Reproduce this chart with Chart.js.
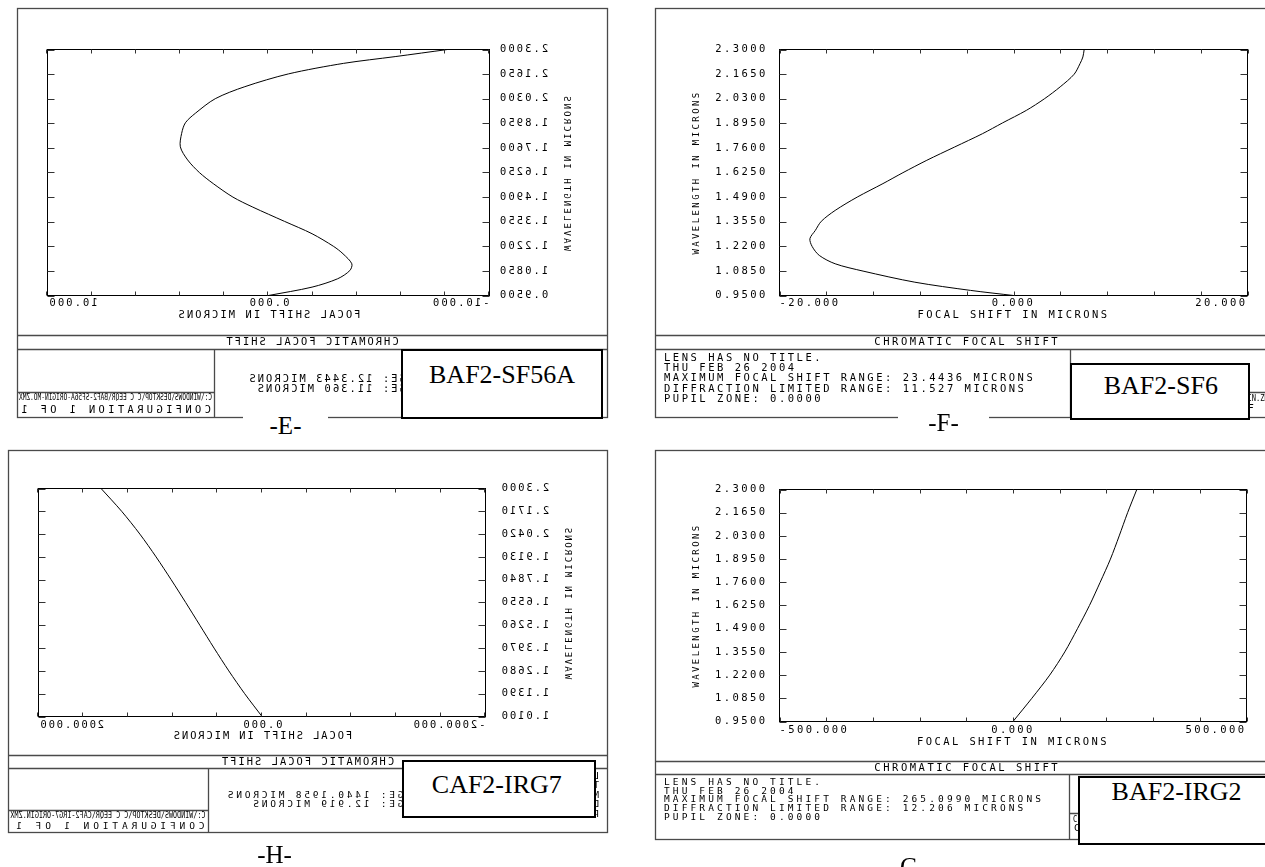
<!DOCTYPE html>
<html>
<head>
<meta charset="utf-8">
<title>Chromatic focal shift</title>
<script src="https://cdn.jsdelivr.net/npm/chart.js@4.4.1/dist/chart.umd.min.js"></script>
<style>
  html, body { margin: 0; padding: 0; background: #fff; }
  #sheet { position: relative; width: 1265px; height: 867px; overflow: hidden; background: #fff; }
  canvas.panel { position: absolute; }
  canvas.mirror { transform: scaleX(-1); }
  .tag { position: absolute; box-sizing: border-box; border: 2px solid #000; background: #fff; }
  .gap { position: absolute; background: #fff; }
  .cap { position: absolute; font-family: "Liberation Serif", "Times New Roman", serif; font-size: 26px;
         line-height: 26px; white-space: nowrap; color: #000; transform: translateX(-50%); }
  .cap.small { font-size: 25px; line-height: 25px; }
</style>
</head>
<body>
<div id="sheet">
  <canvas id="plotE" class="panel mirror" width="605" height="440" style="left:10px;top:0px;width:605px;height:440px"></canvas>
  <canvas id="plotF" class="panel" width="620" height="440" style="left:645px;top:0px;width:620px;height:440px"></canvas>
  <canvas id="plotH" class="panel mirror" width="616" height="427" style="left:0px;top:440px;width:616px;height:427px"></canvas>
  <canvas id="plotG" class="panel" width="620" height="427" style="left:645px;top:440px;width:620px;height:427px"></canvas>

  <div class="tag" style="left:401px;top:349px;width:202px;height:70px"></div>
  <div class="cap" style="left:502px;top:361.5px">BAF2-SF56A</div>
  <div class="gap" style="left:243px;top:411px;width:85px;height:28px"></div>
  <div class="cap small" style="left:285.5px;top:413.3px">-E-</div>

  <div class="tag" style="left:1070px;top:362.5px;width:179.5px;height:57px"></div>
  <div class="cap" style="left:1160.8px;top:372.8px">BAF2-SF6</div>
  <div class="gap" style="left:898px;top:411px;width:91px;height:28px"></div>
  <div class="cap small" style="left:943.5px;top:410.3px">-F-</div>

  <div class="tag" style="left:402px;top:760px;width:194px;height:58px"></div>
  <div class="cap" style="left:496.8px;top:771.8px">CAF2-IRG7</div>
  <div class="cap small" style="left:274.5px;top:842.3px">-H-</div>

  <div class="tag" style="left:1077.5px;top:776px;width:210px;height:69px"></div>
  <div class="cap" style="left:1176.6px;top:779.3px">BAF2-IRG2</div>
  <div class="cap small" style="left:909px;top:853.9px">-G-</div>
</div>

<script>
// ---- BAF2-SF56A ----
const E_WAVE  = [0.950, 0.996, 1.042, 1.087, 1.124, 1.179, 1.219, 1.289, 1.357, 1.435, 1.490, 1.564,
                 1.625, 1.694, 1.766, 1.840, 1.898, 1.950, 2.030, 2.096, 2.166, 2.224, 2.261, 2.300];
const E_SHIFT = [0.00, -1.97, -3.13, -3.68, -3.77, -3.37, -2.95, -1.97, -0.72, 0.71, 1.61, 2.50,
                 3.13, 3.66, 3.99, 3.93, 3.76, 3.31, 2.41, 1.07, -0.90, -3.40, -5.73, -8.10];
const E_SHIFT_TICKS  = [-10, -8, -6, -4, -2, 0, 2, 4, 6, 8, 10];
const E_SHIFT_LABELS = ['-10.000', '', '', '', '', '0.000', '', '', '', '', '10.000'];

// ---- BAF2-SF6 ----
const F_WAVE  = [0.950, 0.978, 1.023, 1.084, 1.124, 1.170, 1.219, 1.262, 1.307, 1.357, 1.417, 1.490,
                 1.564, 1.624, 1.692, 1.765, 1.838, 1.897, 1.966, 2.029, 2.095, 2.164, 2.223, 2.259, 2.300];
const F_SHIFT = [0.00, -3.67, -8.43, -12.86, -15.24, -16.60, -17.21, -17.40, -16.94, -16.43, -15.24, -13.36,
                 -11.16, -9.45, -7.41, -5.03, -2.65, -0.94, 1.10, 2.63, 3.99, 5.18, 5.69, 5.93, 6.04];
const F_SHIFT_TICKS  = [-20, -16, -12, -8, -4, 0, 4, 8, 12, 16, 20];
const F_SHIFT_LABELS = ['-20.000', '', '', '', '', '0.000', '', '', '', '', '20.000'];

// ---- BAF2-IRG2 ----
const G_WAVE  = [0.950, 1.085, 1.220, 1.355, 1.490, 1.625, 1.760, 1.895, 2.030, 2.165, 2.300];
const G_SHIFT = [0.0, 40.3, 78.6, 110.9, 138.0, 163.7, 186.6, 208.6, 227.4, 245.4, 265.1];
const G_SHIFT_TICKS  = [-500, -400, -300, -200, -100, 0, 100, 200, 300, 400, 500];
const G_SHIFT_LABELS = ['-500.000', '', '', '', '', '0.000', '', '', '', '', '500.000'];

// ---- CAF2-IRG7 ----
const H_WAVE  = [1.010, 1.139, 1.268, 1.397, 1.526, 1.655, 1.784, 1.913, 2.042, 2.171, 2.300];
const H_SHIFT = [0, 155, 297, 429, 556, 683, 813, 948, 1093, 1256, 1440.2];
const H_SHIFT_TICKS  = [-2000, -1600, -1200, -800, -400, 0, 400, 800, 1200, 1600, 2000];
const H_SHIFT_LABELS = ['-2000.000', '', '', '', '', '0.000', '', '', '', '', '2000.000'];

// wavelength axes
const WAVE_TICKS   = [0.95, 1.085, 1.22, 1.355, 1.49, 1.625, 1.76, 1.895, 2.03, 2.165, 2.3];
const WAVE_LABELS  = ['0.9500', '1.0850', '1.2200', '1.3550', '1.4900', '1.6250', '1.7600', '1.8950', '2.0300', '2.1650', '2.3000'];
const H_WAVE_TICKS  = [1.01, 1.139, 1.268, 1.397, 1.526, 1.655, 1.784, 1.913, 2.042, 2.171, 2.3];
const H_WAVE_LABELS = ['1.0100', '1.1390', '1.2680', '1.3970', '1.5260', '1.6550', '1.7840', '1.9130', '2.0420', '2.1710', '2.3000'];

const MONO = '"DejaVu Sans Mono", monospace';
const TICK_SIZE = 10.5;

// plotter-style text: fixed pitch per character
function zText(ctx, str, x, y, charW, size, align) {
  ctx.font = size + 'px ' + MONO;
  const ls = charW - 0.602 * size;
  ctx.letterSpacing = ls + 'px';
  const w = str.length * charW - ls;
  const sx = align === 'center' ? x - w / 2 : (align === 'right' ? x - w : x);
  ctx.textAlign = 'left';
  ctx.textBaseline = 'middle';
  ctx.fillText(str, sx, y);
}

// page frame, caption strip, info block and inward tick marks
const zemaxFrame = {
  id: 'zemaxFrame',
  beforeDraw(chart, args, o) {
    const ctx = chart.ctx;
    const [fx1, fy1, fx2, fy2] = o.frame;
    ctx.save();
    ctx.strokeStyle = '#4a4a4a';
    ctx.lineWidth = 1.3;
    ctx.strokeRect(fx1, fy1, fx2 - fx1, fy2 - fy1);
    ctx.beginPath();
    o.seps.forEach(y => { ctx.moveTo(fx1, y); ctx.lineTo(fx2, y); });
    ctx.moveTo(o.divX, o.seps[1]); ctx.lineTo(o.divX, fy2);
    ctx.moveTo(o.divX, o.pathLineY); ctx.lineTo(fx2, o.pathLineY);
    ctx.stroke();

    ctx.fillStyle = '#000';
    zText(ctx, 'CHROMATIC FOCAL SHIFT', (fx1 + fx2) / 2, o.titleY, o.titleW, 10.5, 'center');
    o.info.forEach((s, i) => zText(ctx, s, o.infoX, o.infoY + i * o.infoDy, o.infoW, o.infoSize, 'left'));

    ctx.letterSpacing = '0px';
    ctx.font = '8px ' + MONO;
    ctx.textAlign = 'left';
    ctx.textBaseline = 'middle';
    ctx.fillText(o.path, o.pathX, o.pathY, o.pathW);
    zText(ctx, 'CONFIGURATION 1 OF 1', o.pathX + 1, o.configY, o.configW, o.infoSize, 'left');
    ctx.restore();
    ctx.letterSpacing = o.ls + 'px';
  },
  afterDraw(chart, args, o) {
    const ctx = chart.ctx;
    const { left, right, top, bottom } = chart.chartArea;
    const xs = chart.scales.x, ys = chart.scales.y;
    ctx.save();
    ctx.letterSpacing = '0px';
    ctx.strokeStyle = '#000';
    ctx.lineWidth = 1;
    ctx.strokeRect(left, top, right - left, bottom - top);
    ctx.strokeStyle = '#333';
    ctx.beginPath();
    xs.ticks.forEach((t, i) => {
      const px = Math.round(xs.getPixelForTick(i)) + 0.5;
      ctx.moveTo(px, top); ctx.lineTo(px, top + o.tickX);
      ctx.moveTo(px, bottom); ctx.lineTo(px, bottom - o.tickX);
    });
    ys.ticks.forEach((t, i) => {
      const py = Math.round(ys.getPixelForTick(i)) + 0.5;
      ctx.moveTo(left, py); ctx.lineTo(left + o.tickY, py);
      ctx.moveTo(right, py); ctx.lineTo(right - o.tickY, py);
    });
    ctx.stroke();
    ctx.restore();
  }
};

function zemaxPanel(id, p) {
  const canvas = document.getElementById(id);
  const W = canvas.width, H = canvas.height;
  const [L, T, R, B] = p.plot;
  const half = TICK_SIZE * 0.6;
  const padLeft = p.yTitleX - 9 * 1.2 / 2;
  const xBottom = p.xTitleY + half;
  const tickFont = { family: MONO, size: TICK_SIZE };
  return new Chart(canvas, {
    type: 'scatter',
    data: {
      datasets: [{
        data: p.wave.map((w, i) => ({ x: p.shift[i], y: w })),
        showLine: true, borderColor: '#000', borderWidth: 1, pointRadius: 0, tension: 0.3, fill: false
      }]
    },
    options: {
      responsive: false, animation: false, devicePixelRatio: 1, events: [],
      layout: { padding: { left: padLeft, top: T, right: W - R, bottom: H - xBottom } },
      plugins: { legend: { display: false }, tooltip: { enabled: false }, zemaxFrame: p.frame },
      scales: {
        x: {
          type: 'linear', min: p.xTicks[0], max: p.xTicks[p.xTicks.length - 1],
          afterBuildTicks: s => { s.ticks = p.xTicks.map(v => ({ value: v })); },
          afterFit: s => { s.height = xBottom - B; },
          grid: { display: false, drawTicks: false }, border: { display: false },
          ticks: { autoSkip: false, maxRotation: 0, minRotation: 0, align: 'inner',
                   padding: p.xLabelY - B - half, color: '#000', font: tickFont,
                   callback: (v, i) => p.xLabels[i] },
          title: { display: true, text: 'FOCAL SHIFT IN MICRONS', color: '#000', font: tickFont, padding: 0 }
        },
        y: {
          type: 'linear', min: p.yTicks[0], max: p.yTicks[p.yTicks.length - 1],
          afterBuildTicks: s => { s.ticks = p.yTicks.map(v => ({ value: v })); },
          afterFit: s => { s.width = L - padLeft; },
          grid: { display: false, drawTicks: false }, border: { display: false },
          ticks: { autoSkip: false, padding: L - p.yLabelRight - p.frame.ls, color: '#000', font: tickFont,
                   callback: (v, i) => p.yLabels[i] },
          title: { display: true, text: 'WAVELENGTH IN MICRONS', color: '#000', font: { family: MONO, size: 9 }, padding: 0 }
        }
      }
    },
    plugins: [zemaxFrame]
  });
}

const infoLines = (maxRange, dlRange) => [
  'LENS HAS NO TITLE.',
  'THU FEB 26 2004',
  'MAXIMUM FOCAL SHIFT RANGE: ' + maxRange + ' MICRONS',
  'DIFFRACTION LIMITED RANGE: ' + dlRange + ' MICRONS',
  'PUPIL ZONE: 0.0000'
];

zemaxPanel('plotE', {
  wave: E_WAVE, shift: E_SHIFT, xTicks: E_SHIFT_TICKS, xLabels: E_SHIFT_LABELS,
  yTicks: WAVE_TICKS, yLabels: WAVE_LABELS,
  plot: [125.5, 49.5, 567.5, 295.5], yTitleX: 48.3, yLabelRight: 115, xLabelY: 303.3, xTitleY: 315.2,
  frame: {
    ls: 2.05, tickX: 4, tickY: 7,
    frame: [7.5, 8.5, 597.5, 417.5], seps: [335.5, 349.5], divX: 400.5, pathLineY: 392.5,
    titleY: 342.3, titleW: 8.3,
    info: infoLines('12.3443', '11.360'), infoX: 17, infoY: 359, infoDy: 10, infoW: 8.35, infoSize: 10.5,
    path: 'C:\\WINDOWS\\DESKTOP\\C C EEQR\\BAF2-SF56A-ORIGIN-MO.ZMX', pathX: 403, pathY: 397.7, pathW: 193,
    configY: 410, configW: 9.65
  }
});

zemaxPanel('plotF', {
  wave: F_WAVE, shift: F_SHIFT, xTicks: F_SHIFT_TICKS, xLabels: F_SHIFT_LABELS,
  yTicks: WAVE_TICKS, yLabels: WAVE_LABELS,
  plot: [134.5, 49.5, 602.5, 295.5], yTitleX: 52, yLabelRight: 120.3, xLabelY: 303.3, xTitleY: 315.7,
  frame: {
    ls: 2.4, tickX: 4, tickY: 7,
    frame: [10.5, 8.5, 631.5, 417.5], seps: [335.5, 349.5], divX: 425.5, pathLineY: 392.5,
    titleY: 342.7, titleW: 8.85,
    info: infoLines('23.4436', '11.527'), infoX: 19, infoY: 358, infoDy: 10.3, infoW: 8.84, infoSize: 10.5,
    path: 'C:\\WINDOWS\\DESKTOP\\C C EEQR\\BAF2-SF6-ORIGIN.ZMX', pathX: 428, pathY: 399, pathW: 200,
    configY: 409, configW: 10.2
  }
});

zemaxPanel('plotH', {
  wave: H_WAVE, shift: H_SHIFT, xTicks: H_SHIFT_TICKS, xLabels: H_SHIFT_LABELS,
  yTicks: H_WAVE_TICKS, yLabels: H_WAVE_LABELS,
  plot: [130.5, 48.5, 577.5, 276.5], yTitleX: 49, yLabelRight: 114.2, xLabelY: 285, xTitleY: 296.7,
  frame: {
    ls: 1.88, tickX: 4, tickY: 7,
    frame: [8.5, 10.5, 607.5, 392.5], seps: [315.5, 328.5], divX: 407.5, pathLineY: 370.5,
    titleY: 322, titleW: 8.3,
    info: infoLines('1440.1958', '12.919'), infoX: 17, infoY: 336.5, infoDy: 9.5, infoW: 8.5, infoSize: 9.5,
    path: 'C:\\WINDOWS\\DESKTOP\\C C EEQR\\CAF2-IRG7-ORIGIN.ZMX', pathX: 410.5, pathY: 375.7, pathW: 195,
    configY: 386.7, configW: 9.6
  }
});

zemaxPanel('plotG', {
  wave: G_WAVE, shift: G_SHIFT, xTicks: G_SHIFT_TICKS, xLabels: G_SHIFT_LABELS,
  yTicks: WAVE_TICKS, yLabels: WAVE_LABELS,
  plot: [134.5, 49.5, 601.5, 281.5], yTitleX: 52, yLabelRight: 120, xLabelY: 290.7, xTitleY: 302.3,
  frame: {
    ls: 2.4, tickX: 4, tickY: 7,
    frame: [10.5, 10.5, 631.5, 399.5], seps: [321.5, 334.5], divX: 424.5, pathLineY: 373.5,
    titleY: 328, titleW: 8.85,
    info: infoLines('265.0990', '12.206'), infoX: 19, infoY: 342.3, infoDy: 8.75, infoW: 8.84, infoSize: 9.5,
    path: 'C:\\WINDOWS\\DESKTOP\\C C EEQR\\BAF2-IRG2-ORIGIN.ZMX', pathX: 428, pathY: 380, pathW: 200,
    configY: 388.5, configW: 10.2
  }
});
</script>
</body>
</html>
